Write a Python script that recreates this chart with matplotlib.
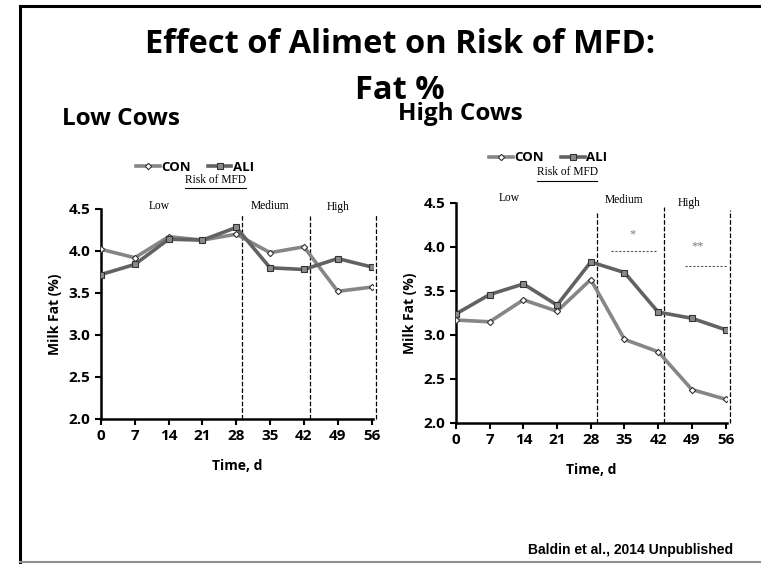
import matplotlib
matplotlib.use("Agg")
import matplotlib.pyplot as plt
from matplotlib.lines import Line2D

# data
days = [0, 7, 14, 21, 28, 35, 42, 49, 56]
low_con = [4.02, 3.92, 4.17, 4.13, 4.20, 3.98, 4.05, 3.52, 3.57]
low_ali = [3.72, 3.84, 4.14, 4.13, 4.28, 3.80, 3.78, 3.91, 3.81]
high_con = [3.17, 3.15, 3.40, 3.27, 3.63, 2.95, 2.81, 2.38, 2.27]
high_ali = [3.24, 3.46, 3.58, 3.34, 3.83, 3.71, 3.26, 3.19, 3.06]
risk_bounds = [29.2, 43.2, 57.0]
risk_labels = ["Low", "Medium", "High"]
yticks = [2.0, 2.5, 3.0, 3.5, 4.0, 4.5]

sans = ["Open Sans", "DejaVu Sans"]
serif = ["Liberation Serif", "DejaVu Serif"]

fig = plt.figure(figsize=(7.61, 5.64), dpi=100)

# slide frame
fig.add_artist(Line2D([20 / 761, 20 / 761], [1 - 6 / 564, 0], color="black", lw=2.2))
fig.add_artist(Line2D([20 / 761, 1], [1 - 6 / 564, 1 - 6 / 564], color="black", lw=2.2))
fig.add_artist(Line2D([20 / 761, 1], [1 - 562 / 564, 1 - 562 / 564], color="#909090", lw=1.5))

fig.text(0.526, 1 - 53 / 564, "Effect of Alimet on Risk of MFD:", ha="center", va="baseline",
         fontsize=23.5, fontweight="bold", family=sans)
fig.text(0.526, 1 - 99 / 564, "Fat %", ha="center", va="baseline",
         fontsize=23.5, fontweight="bold", family=sans)
fig.text(62 / 761, 1 - 125 / 564, "Low Cows", ha="left", va="baseline",
         fontsize=17.5, fontweight="bold", family=sans)
fig.text(398 / 761, 1 - 120 / 564, "High Cows", ha="left", va="baseline",
         fontsize=17.5, fontweight="bold", family=sans)
fig.text(733 / 761, 1 - 550 / 564, "Baldin et al., 2014 Unpublished", ha="right", va="center",
         fontsize=10, fontweight="bold", family=["Liberation Sans", "DejaVu Sans"])


def draw_panel(rect, con, ali, label_pos, legend_xy, risk_xy, marks):
    ax = fig.add_axes(rect)
    ax.plot(days, con, color="#868686", lw=2.6, marker="D", ms=3.2,
            mfc="white", mec="#333333", mew=0.8, label="CON", zorder=3)
    ax.plot(days, ali, color="#626262", lw=2.6, marker="s", ms=4.5,
            mfc="#8a8a8a", mec="#333333", mew=0.8, label="ALI", zorder=3)
    ax.set_xlim(0, 56.3)
    ax.set_ylim(2.0, 4.5)
    ax.set_xticks(days)
    ax.set_yticks(yticks)
    ax.set_yticklabels(["%.1f" % v for v in yticks])
    for s in ["top", "right"]:
        ax.spines[s].set_visible(False)
    for s in ["left", "bottom"]:
        ax.spines[s].set_linewidth(1.8)
    ax.tick_params(direction="out", length=4, width=1.5, labelsize=11)
    for t in ax.get_xticklabels() + ax.get_yticklabels():
        t.set_fontweight("bold")
        t.set_family(sans)
    ax.set_ylabel("Milk Fat (%)", fontsize=10, fontweight="bold", family=sans, labelpad=5)
    ax.set_xlabel("Time, d", fontsize=10, fontweight="bold", family=sans, labelpad=11)

    for xb, yt in zip(risk_bounds, label_pos[1]):
        ax.plot([xb, xb], [2.0, yt], ls="--", color="black", lw=0.9, clip_on=False)
    for (xl, yl), name in zip(label_pos[0], risk_labels):
        ax.text(xl, yl, name, ha="center", va="center", fontsize=8.3, family=serif)
    rx, ry = risk_xy
    ax.text(rx, ry, "Risk of MFD", transform=ax.transAxes, ha="center", va="center",
            fontsize=8.3, family=serif)
    ax.plot([rx - 0.112, rx + 0.112], [ry - 0.04, ry - 0.04], transform=ax.transAxes,
            color="black", lw=0.8, clip_on=False)
    for (x0, x1, yy, star, sx, sy) in marks:
        ax.plot([x0, x1], [yy, yy], ls=(0, (2, 1.5)), color="#555555", lw=0.8)
        ax.text(sx, sy, star, ha="center", va="center", fontsize=9, color="#777777", family=serif)

    ax.legend(loc="center", bbox_to_anchor=legend_xy, ncol=2, frameon=False,
              handlelength=1.8, handletextpad=0.1, columnspacing=1.3,
              prop={"family": sans, "weight": "bold", "size": 9.5})
    return ax


low_lab = ([(12, 4.54), (35, 4.54), (49, 4.52)], [4.43, 4.42, 4.43])
draw_panel([101 / 761, 1 - 419 / 564, 272 / 761, 210 / 564], low_con, low_ali,
           low_lab, (0.345, 1.20), (0.42, 1.14), [])

high_lab = ([(11, 4.56), (35, 4.53), (48.5, 4.50)], [4.40, 4.46, 4.42])
draw_panel([456 / 761, 1 - 423 / 564, 271 / 761, 220 / 564], high_con, high_ali,
           high_lab, (0.34, 1.205), (0.41, 1.14),
           [(32.2, 41.5, 3.95, "*", 36.6, 4.14), (47.6, 56.3, 3.78, "**", 50.3, 4.01)])

fig.savefig("out.png", dpi=100)
